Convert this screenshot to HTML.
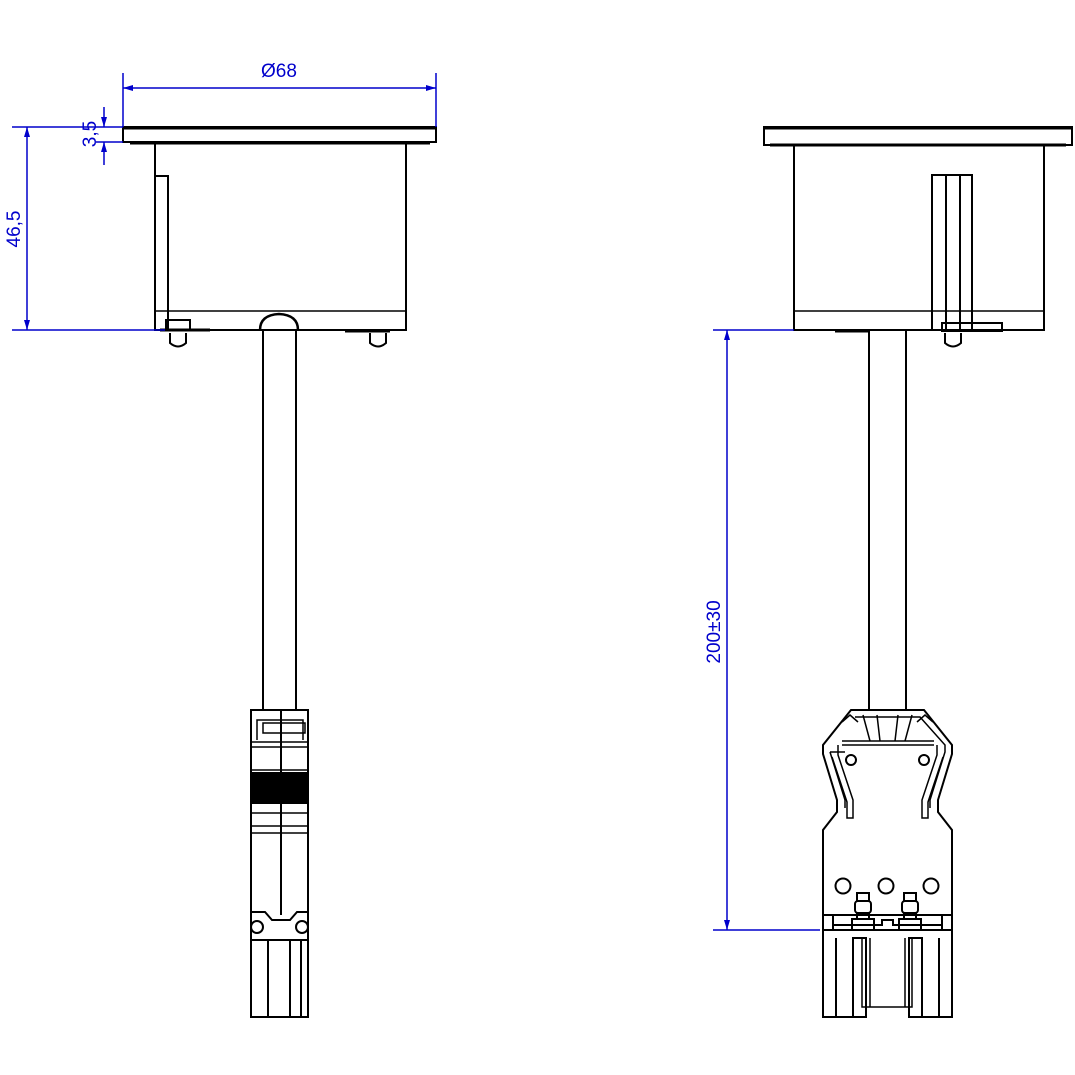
<!DOCTYPE html>
<html><head><meta charset="utf-8"><style>html,body{margin:0;padding:0;background:#fff}svg{display:block}</style></head>
<body>
<svg width="1075" height="1075" viewBox="0 0 1075 1075" xmlns="http://www.w3.org/2000/svg">
<defs>
<marker id="a" viewBox="0 0 10 6" refX="10" refY="3" markerWidth="10" markerHeight="6" orient="auto-start-reverse" markerUnits="userSpaceOnUse"><path d="M0,0 L10,3 L0,6 z" fill="#0000cc"/></marker>
</defs>
<g fill="none" stroke="#000" stroke-width="2">
<!-- LEFT VIEW -->
<rect x="123" y="127" width="313" height="15" stroke-width="2"/>
<line x1="123" y1="128" x2="436" y2="128" stroke-width="3"/>
<line x1="130" y1="143" x2="430" y2="143" stroke-width="3"/>
<line x1="170" y1="143" x2="190" y2="143" stroke="#fff" stroke-width="1.5"/>
<line x1="370" y1="143" x2="390" y2="143" stroke="#fff" stroke-width="1.5"/>
<rect x="155" y="143" width="251" height="187"/>
<line x1="155" y1="311" x2="406" y2="311" stroke-width="1.5"/>
<rect x="155" y="176" width="13" height="154"/>
<line x1="263" y1="330" x2="263" y2="710"/>
<line x1="296" y1="330" x2="296" y2="710"/>
<path d="M260,330 Q260,315 279,314 Q298,315 298,330" stroke-width="2.5"/>
<path d="M160,330 L210,330" stroke-width="3"/>
<rect x="166" y="320" width="24" height="10" stroke-width="2"/>
<path d="M170,333 L170,343 Q178,350 186,343 L186,333" stroke-width="2"/>
<path d="M345,331 L390,331" stroke-width="3"/>
<path d="M370,333 L370,343 Q378,350 386,343 L386,333" stroke-width="2"/>
<!-- left connector -->
<rect x="251" y="710" width="57" height="307"/>
<line x1="281" y1="710" x2="281" y2="915"/>
<path d="M257,740 L257,720 L303,720 L303,740" stroke-width="1.5"/>
<rect x="263" y="723" width="42" height="10" stroke-width="1.5"/>
<line x1="251" y1="742" x2="308" y2="742" stroke-width="1.5"/>
<line x1="251" y1="747" x2="308" y2="747" stroke-width="1.5"/>
<line x1="251" y1="770" x2="308" y2="770" stroke-width="1.5"/>
<rect x="251" y="773" width="57" height="30" fill="#000"/>
<line x1="251" y1="813" x2="308" y2="813" stroke-width="1.5"/>
<line x1="251" y1="826" x2="308" y2="826" stroke-width="1.5"/>
<line x1="251" y1="833" x2="308" y2="833" stroke-width="1.5"/>
<path d="M251,912 L265,912 L272,920 L290,920 L297,912 L308,912" stroke-width="2"/>
<circle cx="257" cy="927" r="6"/>
<circle cx="302" cy="927" r="6"/>
<line x1="251" y1="940" x2="308" y2="940"/>
<line x1="268" y1="940" x2="268" y2="1017"/>
<line x1="290" y1="940" x2="290" y2="1017"/>
<line x1="301" y1="940" x2="301" y2="1017"/>
<!-- RIGHT VIEW -->
<rect x="764" y="127" width="308" height="18"/>
<line x1="764" y1="128" x2="1072" y2="128" stroke-width="3"/>
<line x1="770" y1="145" x2="1066" y2="145" stroke-width="3"/>
<line x1="810" y1="145" x2="828" y2="145" stroke="#fff" stroke-width="1.5"/>
<line x1="1010" y1="145" x2="1028" y2="145" stroke="#fff" stroke-width="1.5"/>
<rect x="794" y="145" width="250" height="185"/>
<line x1="794" y1="311" x2="1044" y2="311" stroke-width="1.5"/>
<rect x="932" y="175" width="40" height="155"/>
<line x1="946" y1="175" x2="946" y2="330"/>
<line x1="960" y1="175" x2="960" y2="330"/>
<rect x="942" y="323" width="60" height="8" stroke-width="2"/>
<path d="M945,333 L945,343 Q953,350 961,343 L961,333" stroke-width="2"/>
<path d="M835,331 L870,331" stroke-width="3"/>
<line x1="869" y1="330" x2="869" y2="710"/>
<line x1="906" y1="330" x2="906" y2="710"/>
<!-- right connector -->
<path d="M851,710 L924,710 L952,745 L952,754 L938,800 L938,812 L952,830 L952,915 L823,915 L823,830 L837,812 L837,800 L823,754 L823,745 Z"/>
<path d="M855,717 L920,717 L945,745 L945,752 L930,800 L930,808 M845,752 L830,752 M830,752 L845,800 L845,808" stroke-width="1.5"/>
<path d="M842,741 L934,741 M842,745 L934,745" stroke-width="1.5"/>
<path d="M838,745 L838,755 L853,800 L853,818 L847,818 L847,802 L832,757" stroke-width="1.5"/>
<path d="M937,745 L937,755 L922,800 L922,818 L928,818 L928,802 L943,757" stroke-width="1.5"/>
<path d="M863,715 L870,741 M877,715 L880,741 M912,715 L905,741 M898,715 L895,741" stroke-width="1.5"/>
<path d="M842,722 L850,715 L858,722 M933,722 L925,715 L917,722" stroke-width="1.5"/>
<circle cx="851" cy="760" r="5"/>
<circle cx="924" cy="760" r="5"/>
<circle cx="843" cy="886" r="7.5"/>
<circle cx="886" cy="886" r="7.5"/>
<circle cx="931" cy="886" r="7.5"/>
<rect x="857" y="893" width="12" height="8"/>
<rect x="855" y="901" width="16" height="12" rx="3"/>
<rect x="857" y="913" width="12" height="6"/>
<rect x="852" y="919" width="22" height="11"/>
<rect x="904" y="893" width="12" height="8"/>
<rect x="902" y="901" width="16" height="12" rx="3"/>
<rect x="904" y="913" width="12" height="6"/>
<rect x="899" y="919" width="22" height="11"/>
<rect x="823" y="915" width="10" height="15"/>
<rect x="942" y="915" width="10" height="15"/>
<path d="M833,925 L882,925 L882,920 L893,920 L893,925 L942,925"/>
<line x1="823" y1="930" x2="952" y2="930"/>
<path d="M823,930 L823,1017 L866,1017 L866,938 L853,938 L853,1017"/>
<path d="M952,930 L952,1017 L909,1017 L909,938 L922,938 L922,1017"/>
<path d="M836,938 L836,1017 M939,938 L939,1017"/>
<path d="M862,938 L862,1007 L912,1007 L912,938 M866,940 L866,1007 M909,940 L909,1007 M870,938 L870,1007 M905,938 L905,1007" stroke-width="1.5"/>
</g>
<!-- DIMENSIONS -->
<g stroke="#0000cc" stroke-width="1.5" fill="none">
<line x1="123" y1="73" x2="123" y2="127"/>
<line x1="436" y1="73" x2="436" y2="127"/>
<line x1="123" y1="88" x2="436" y2="88" marker-start="url(#a)" marker-end="url(#a)"/>
<line x1="12" y1="127" x2="123" y2="127"/>
<line x1="96" y1="142" x2="123" y2="142"/>
<line x1="104" y1="107" x2="104" y2="127" marker-end="url(#a)"/>
<line x1="104" y1="165" x2="104" y2="142" marker-end="url(#a)"/>
<line x1="12" y1="330" x2="165" y2="330"/>
<line x1="27" y1="127" x2="27" y2="330" marker-start="url(#a)" marker-end="url(#a)"/>
<line x1="713" y1="330" x2="794" y2="330"/>
<line x1="713" y1="930" x2="820" y2="930"/>
<line x1="727" y1="330" x2="727" y2="930" marker-start="url(#a)" marker-end="url(#a)"/>
</g>
<g fill="#0000cc" font-family="Liberation Sans, sans-serif" font-size="19">
<text x="279" y="77" text-anchor="middle">Ø68</text>
<text transform="translate(96,134) rotate(-90)" text-anchor="middle">3,5</text>
<text transform="translate(20,229) rotate(-90)" text-anchor="middle">46,5</text>
<text transform="translate(720,632) rotate(-90)" text-anchor="middle">200±30</text>
</g>
</svg>
</body></html>
